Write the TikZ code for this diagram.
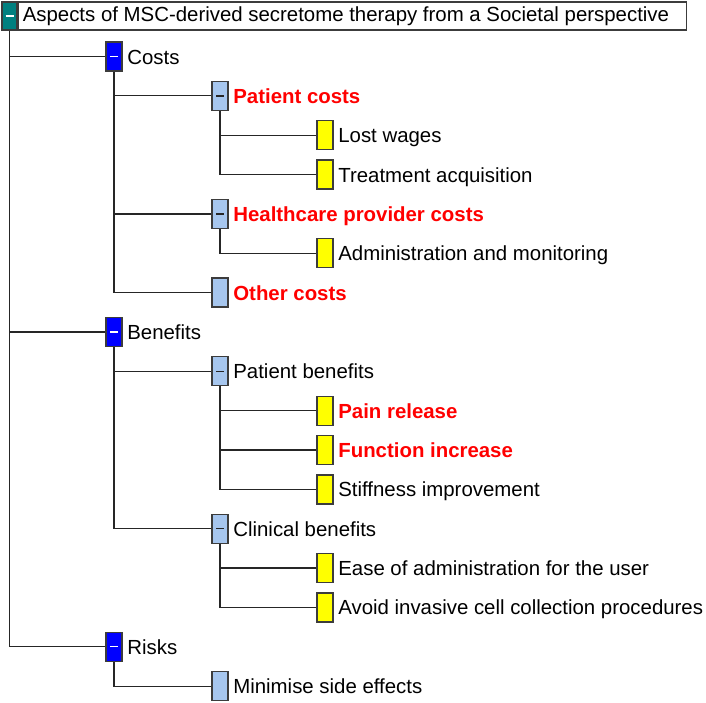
\documentclass[tikz,border=0pt]{standalone}
\usepackage{fontspec}
\setmainfont{Liberation Sans}
\definecolor{rootteal}{RGB}{0,128,128}
\definecolor{grpblue}{RGB}{0,0,255}
\definecolor{subblue}{RGB}{166,198,238}
\definecolor{leafyellow}{RGB}{255,255,0}
\definecolor{edgegray}{RGB}{60,60,60}
\definecolor{hot}{RGB}{255,0,0}
\begin{document}
\begin{tikzpicture}[x=1pt,y=-1pt,
  txt/.style={font=\fontsize{20.4pt}{24pt}\selectfont},
  box/.style={draw=edgegray, line width=1.3pt, minimum width=16pt,
    minimum height=29pt, inner sep=0pt},
  minus/.style={path picture={\draw[#1, line width=1.4pt]
    ([xshift=-4pt]path picture bounding box.center) --
    ([xshift=4pt]path picture bounding box.center);}},
  topbox/.style={box, fill=rootteal, minimum width=15pt, minimum height=28pt, minus=white},
  grpbox/.style={box, fill=grpblue, minus=white},
  subbox/.style={box, fill=subblue, minus=black!85},
  subleaf/.style={box, fill=subblue},
  leaf/.style={box, fill=leafyellow},
  lbl/.style={txt, anchor=base west, inner sep=0pt, xshift=4.5pt, yshift=-7.5pt},
  hotlbl/.style={lbl, text=hot, font=\fontsize{20.4pt}{24pt}\selectfont\bfseries},
  conn/.style={draw=black!85, line width=1.2pt}]
\useasboundingbox (0,0) rectangle (706,702);

% root
\node[topbox] (b0) at (9.5,16) {};
\node[txt, draw=edgegray, line width=1.3pt, anchor=west, minimum height=28pt,
      inner xsep=4.5pt, inner ysep=0pt] (t0) at (b0.east)
  {\makebox[659pt][l]{Aspects of MSC-derived secretome therapy from a Societal perspective}};

% costs
\node[grpbox]  (b1)  at (114,56.5)  {};   \node[lbl]    (t1)  at (b1.east)  {Costs};
\node[subbox]  (b2)  at (220,95.85) {};   \node[hotlbl] (t2)  at (b2.east)  {Patient costs};
\node[leaf]    (b3)  at (325,135.2) {};   \node[lbl]    (t3)  at (b3.east)  {Lost wages};
\node[leaf]    (b4)  at (325,174.55){};   \node[lbl]    (t4)  at (b4.east)  {Treatment acquisition};
\node[subbox]  (b5)  at (220,213.9) {};   \node[hotlbl] (t5)  at (b5.east)  {Healthcare provider costs};
\node[leaf]    (b6)  at (325,253.25){};   \node[lbl]    (t6)  at (b6.east)  {Administration and monitoring};
\node[subleaf] (b7)  at (220,292.6) {};   \node[hotlbl] (t7)  at (b7.east)  {Other costs};

% benefits
\node[grpbox]  (b8)  at (114,331.95){};   \node[lbl]    (t8)  at (b8.east)  {Benefits};
\node[subbox]  (b9)  at (220,371.3) {};   \node[lbl]    (t9)  at (b9.east)  {Patient benefits};
\node[leaf]    (b10) at (325,410.65){};   \node[hotlbl] (t10) at (b10.east) {Pain release};
\node[leaf]    (b11) at (325,450)   {};   \node[hotlbl] (t11) at (b11.east) {Function increase};
\node[leaf]    (b12) at (325,489.35){};   \node[lbl]    (t12) at (b12.east) {Stiffness improvement};
\node[subbox]  (b13) at (220,528.7) {};   \node[lbl]    (t13) at (b13.east) {Clinical benefits};
\node[leaf]    (b14) at (325,568.05){};   \node[lbl]    (t14) at (b14.east) {Ease of administration for the user};
\node[leaf]    (b15) at (325,607.4) {};   \node[lbl]    (t15) at (b15.east) {Avoid invasive cell collection procedures};

% risks
\node[grpbox]  (b16) at (114,646.75){};   \node[lbl]    (t16) at (b16.east) {Risks};
\node[subleaf] (b17) at (220,686.1) {};   \node[lbl]    (t17) at (b17.east) {Minimise side effects};

% tree connectors
\foreach \p/\c in {b0/b1, b0/b8, b0/b16,
                   b1/b2, b1/b5, b1/b7,
                   b2/b3, b2/b4, b5/b6,
                   b8/b9, b8/b13,
                   b9/b10, b9/b11, b9/b12,
                   b13/b14, b13/b15,
                   b16/b17}
  \draw[conn] (\p.south) |- (\c.west);
\end{tikzpicture}
\end{document}
